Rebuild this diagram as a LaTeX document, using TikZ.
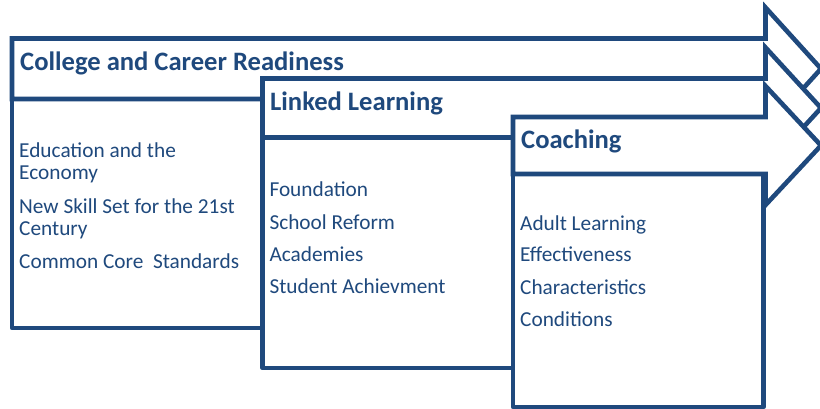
\documentclass[tikz,border=0pt]{standalone}
\usepackage{fontspec}
\setmainfont{Carlito}
\definecolor{navy}{HTML}{1F497D}
\begin{document}
\begin{tikzpicture}[x=1pt,y=-1pt,
  band/.style={draw=navy,fill=white,line width=4.6pt,line join=miter},
  pane/.style={draw=navy,fill=white,line width=4.6pt,line join=round},
  head/.style={inner sep=0pt,anchor=base west,text=navy,font=\fontsize{26.6}{30}\selectfont\bfseries},
  item/.style={inner sep=0pt,anchor=base west,text=navy,font=\fontsize{21.3}{25}\selectfont}]
\useasboundingbox (0,0) rectangle (820,408);
\clip (0,0) rectangle (820,408);

% one stage: a body panel below a right-pointing band
% #1 left x, #2 band top, #3 band bottom, #4 panel bottom
\newcommand\stagearrow[4]{%
  \filldraw[pane] (#1,#3) rectangle ({#1+250.5},#4);
  \filldraw[band] (#1,#2) -- (765.5,#2) -- (765.5,{#2-31})
    -- (821,{(#2+#3)/2}) -- (765.5,{#3+31}) -- (765.5,#3)
    -- (#1,#3) -- cycle;}

\stagearrow{12}{38.5}{99}{328}
\stagearrow{262.5}{78.5}{137.5}{368}
\stagearrow{513}{117}{174}{407}

% band titles
\node[head] (t1) at (20,70) {College and Career Readiness};
\node[head] (t2) at (270,110) {Linked Learning};
\node[head] (t3) at (521,148.5) {Coaching};

% first panel
\node[item] (a1) at (19,157.3) {Education and the};
\node[item] (a2) at (19,179.3) {Economy};
\node[item] (a3) at (19,213.3) {New Skill Set for the 21st};
\node[item] (a4) at (19,235.3) {Century};
\node[item] (a5) at (19,268.3) {Common Core\ \ Standards};

% second panel
\node[item] (b1) at (269.3,196.7) {Foundation};
\node[item] (b2) at (269.3,229.3) {School Reform};
\node[item] (b3) at (269.3,261.7) {Academies};
\node[item] (b4) at (269.3,293.3) {Student Achievment};

% third panel
\node[item] (c1) at (520,230) {Adult Learning};
\node[item] (c2) at (520,261.7) {Effectiveness};
\node[item] (c3) at (520,294.3) {Characteristics};
\node[item] (c4) at (520,326) {Conditions};
\end{tikzpicture}
\end{document}
